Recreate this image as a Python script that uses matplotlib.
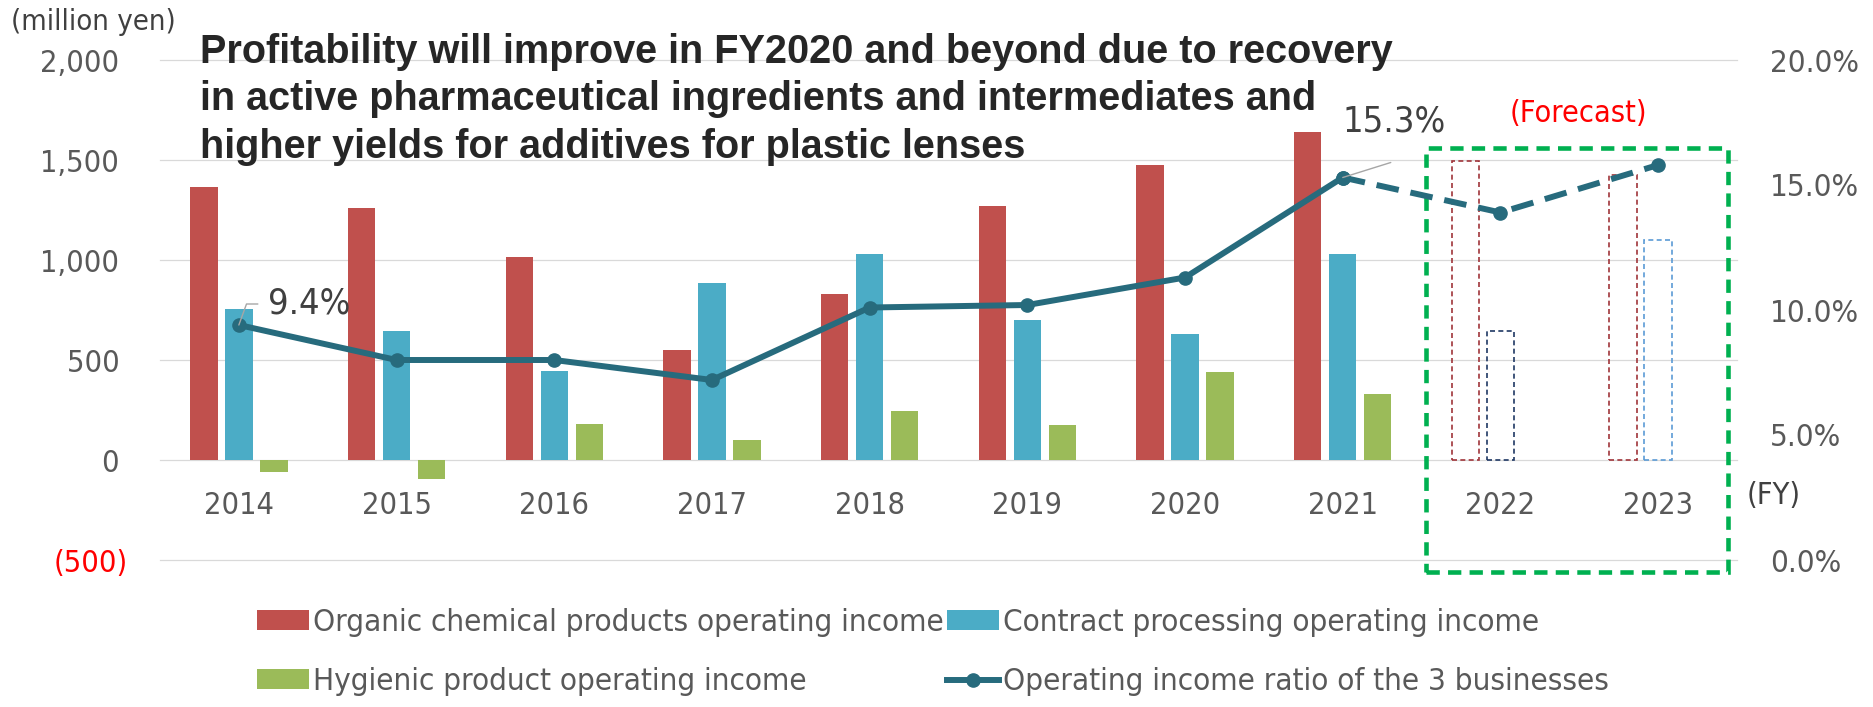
import matplotlib
matplotlib.use("Agg")
import matplotlib.pyplot as plt
from matplotlib.patches import Rectangle

plt.rcParams["font.family"] = "DejaVu Sans"
plt.rcParams["font.stretch"] = "condensed"

# data
years = ["2014", "2015", "2016", "2017", "2018", "2019", "2020", "2021", "2022", "2023"]
organic = [1363, 1258, 1016, 548, 828, 1270, 1475, 1638]
contract = [753, 647, 443, 883, 1032, 698, 630, 1028]
hygienic = [-60, -95, 182, 100, 245, 173, 438, 330]
organic_fc = [1495, 1425]
contract_fc = [645, 1100]
ratio = [9.4, 8.0, 8.0, 7.2, 10.1, 10.2, 11.3, 15.3, 13.9, 15.8]

left_ticks = [-500, 0, 500, 1000, 1500, 2000]
right_ticks = [0, 5, 10, 15, 20]
title_lines = ["Profitability will improve in FY2020 and beyond due to recovery",
               "in active pharmaceutical ingredients and intermediates and",
               "higher yields for additives for plastic lenses"]

RED, BLUE, GREEN, TEAL = "#C0504D", "#4BACC6", "#9BBB59", "#276B7D"
GRAY_TXT = "#595959"

W, H = 1874, 707
fig = plt.figure(figsize=(W / 100, H / 100), dpi=100)
ax = fig.add_axes([160 / W, 147 / H, 1577 / W, 500 / H])
ax2 = ax.twinx()

n_act = len(organic)
x_act = list(range(n_act))
x_fc = list(range(n_act, len(years)))
bw, off = 0.174, 0.222

ax.bar([x - off for x in x_act], organic, bw, color=RED, label="Organic chemical products operating income")
ax.bar(x_act, contract, bw, color=BLUE, label="Contract processing operating income")
ax.bar([x + off for x in x_act], hygienic, bw, color=GREEN, label="Hygienic product operating income")

# forecast bars: outline only
ax.bar([x - off for x in x_fc], organic_fc, bw, fill=False, edgecolor="#A0353A",
       linestyle=(0, (3, 2)), linewidth=1.2)
ax.bar(x_fc, contract_fc, bw, fill=False, edgecolor=["#1F3864", "#5B9BD5"],
       linestyle=(0, (3, 2)), linewidth=1.2)

ax.set_xlim(-0.5, len(years) - 0.5)
ax.set_ylim(-500, 2000)
ax.set_yticks(left_ticks)
ax.set_yticklabels([f"({-v:,})" if v < 0 else f"{v:,}\u2008" for v in left_ticks])
for lbl, v in zip(ax.get_yticklabels(), left_ticks):
    lbl.set_color("#FF0000" if v < 0 else GRAY_TXT)
ax.tick_params(axis="y", length=0, pad=23, labelsize=22)
ax.set_xticks(range(len(years)))
ax.set_xticklabels(years)
ax.spines["bottom"].set_position(("data", 0))
ax.tick_params(axis="x", length=0, pad=22, labelsize=22, labelcolor=GRAY_TXT)
ax.grid(axis="y", color="#D9D9D9", linewidth=0.9)
for gl in ax.get_ygridlines():
    gl.set_clip_on(False)
ax.set_axisbelow(True)
for s in ax.spines.values():
    s.set_visible(False)

# ratio line, actual solid, forecast dashed
line, = ax2.plot(range(n_act), ratio[:n_act], color=TEAL, lw=4.3, marker="o", ms=9.5,
                 label="Operating income ratio of the 3 businesses")
ax2.plot(range(n_act - 1, len(years)), ratio[n_act - 1:], color=TEAL, lw=4.3,
         linestyle=(0, (3.8, 2)), marker="o", ms=9.5)
ax2.set_ylim(0, 20)
ax2.set_yticks(right_ticks)
ax2.set_yticklabels([f"{v:.1f}%" for v in right_ticks])
ax2.tick_params(axis="y", length=0, pad=24, labelsize=22.5, labelcolor=GRAY_TXT)
for s in ax2.spines.values():
    s.set_visible(False)

# data labels with leader lines
ax2.annotate("", xy=(0, ratio[0]), xytext=(19, 21), textcoords="offset pixels",
             arrowprops=dict(arrowstyle="-", color="#A6A6A6", lw=1,
                             connectionstyle="angle,angleA=0,angleB=70,rad=0",
                             shrinkA=0, shrinkB=0))
ax2.annotate(f"{ratio[0]}%", xy=(0, ratio[0]), xytext=(29, 21), textcoords="offset pixels",
             ha="left", va="center", fontsize=26, color="#404040")
ax2.annotate("", xy=(7, ratio[7]), xytext=(48, 15), textcoords="offset pixels",
             arrowprops=dict(arrowstyle="-", color="#A6A6A6", lw=1, shrinkA=0, shrinkB=0))
ax2.annotate(f"{ratio[7]}%", xy=(7, ratio[7]), xytext=(0, 56), textcoords="offset pixels",
             ha="left", va="center", fontsize=26, color="#404040")

# forecast box
box = Rectangle((7.525, -558), 1.915, 2116, transform=ax.transData, fill=False,
                edgecolor="#00B050", lw=3.3, linestyle=(0, (2.9, 1.8)), clip_on=False)
ax2.add_patch(box)
fig.text(1578 / W, 1 - 113 / H, "(Forecast)", color="#FF0000", fontsize=22,
         ha="center", va="center")

fig.text(11 / W, 1 - 22 / H, "(million yen)", color="#404040", fontsize=21,
         ha="left", va="center")
fig.text(1747 / W, 1 - 495 / H, "(FY)", color="#404040", fontsize=22,
         ha="left", va="center")

for i, t in enumerate(title_lines):
    fig.text(200 / W, 1 - (63 + 47.5 * i) / H, t, family="Liberation Sans",
             fontweight="bold", fontstretch="normal", fontsize=28.5, color="#262626",
             ha="left", va="baseline")

handles = [ax.containers[0], ax.containers[2], ax.containers[1], line]
labels = [h.get_label() for h in handles]
fig.legend(handles, labels, ncol=2, loc="upper left", bbox_to_anchor=(257 / W, 1 - 608 / H),
           frameon=False, fontsize=22.5, labelcolor=GRAY_TXT, borderpad=0, borderaxespad=0,
           handlelength=1.66, handleheight=0.6, handletextpad=0.13, columnspacing=0.1,
           labelspacing=0.97)

fig.savefig("out.png", dpi=100)
